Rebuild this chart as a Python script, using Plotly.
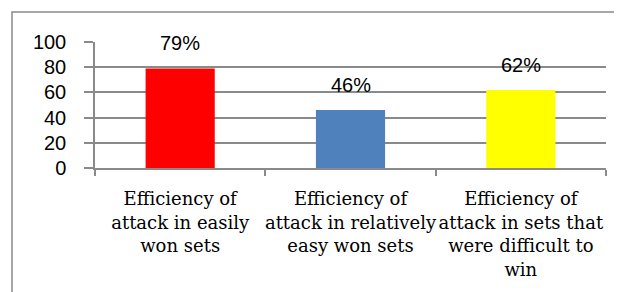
import plotly.graph_objects as go

categories = [
    "Efficiency of<br>attack in easily<br>won sets",
    "Efficiency of<br>attack in relatively<br>easy won sets",
    "Efficiency of<br>attack in sets that<br>were difficult to<br>win",
]
values = [79, 46, 62]
labels = ["79%", "46%", "62%"]
colors = ["#FF0000", "#4F81BD", "#FFFF00"]
y_ticks = [0, 20, 40, 60, 80, 100]

grid = "#8a8a8a"

fig = go.Figure()
fig.add_trace(go.Bar(x=categories, y=values, marker=dict(color=colors, line=dict(width=0)),
                     hoverinfo="skip"))

for c, v, t in zip(categories, values, labels):
    fig.add_annotation(x=c, y=v, text=t, showarrow=False, yanchor="bottom", yshift=12,
                       font=dict(family="Liberation Sans", size=20, color="#000"))

fig.add_shape(type="rect", xref="paper", yref="paper", x0=-0.1624, x1=1.1, y0=-1.1, y1=1.238,
              line=dict(color="#8a8a8a", width=1.5), fillcolor="rgba(0,0,0,0)", layer="below")

fig.update_layout(
    width=622, height=292,
    margin=dict(l=87, r=24, t=34, b=132, autoexpand=False),
    paper_bgcolor="white", plot_bgcolor="white",
    bargap=0.594,
    showlegend=False,
)
fig.update_xaxes(
    type="category", tickson="boundaries", ticks="outside", ticklen=6, tickcolor=grid, tickwidth=1.5,
    showline=True, linecolor=grid, linewidth=1.5, showgrid=False, tickangle=0, automargin=False,
    tickfont=dict(family="DejaVu Serif", size=18, color="#000"), ticklabelstandoff=14,
)
fig.update_yaxes(
    range=[0, 100], tickvals=y_ticks, ticks="outside", ticklen=9, tickcolor=grid, tickwidth=1.5,
    showline=True, linecolor=grid, linewidth=1.5, showgrid=True, gridcolor=grid, gridwidth=1.5,
    zeroline=False, automargin=False,
    tickfont=dict(family="Liberation Sans", size=20, color="#000"), ticklabelstandoff=14,
)

fig.write_html("out.html")
